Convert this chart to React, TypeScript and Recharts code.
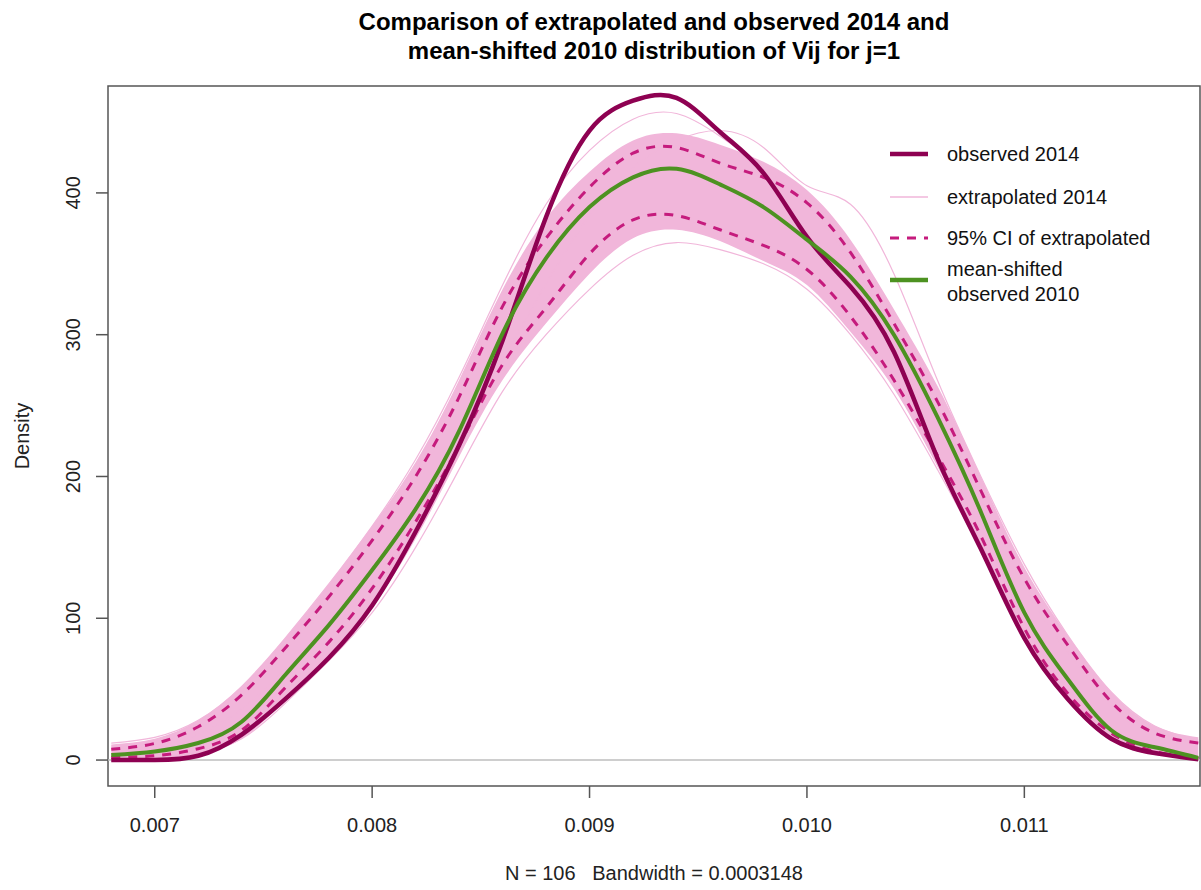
import React from 'react';
import {
  Area,
  ComposedChart,
  Legend,
  Line,
  ReferenceArea,
  ReferenceLine,
  XAxis,
  YAxis,
} from 'recharts';

// density grid (Vij), step 0.0002
const X_VALUES = [
  0.0068, 0.0070, 0.0072, 0.0074, 0.0076, 0.0078, 0.0080, 0.0082, 0.0084,
  0.0086, 0.0088, 0.0090, 0.0092, 0.0094, 0.0096, 0.0098, 0.0100, 0.0102,
  0.0104, 0.0106, 0.0108, 0.0110, 0.0112, 0.0114, 0.0116, 0.0118,
];

const OBSERVED_2014 = [
  0, 0, 3, 18, 43, 72, 109, 161, 222, 296, 383, 444, 465,
  467, 443, 414, 369, 334, 288, 213, 149, 86, 43, 15, 5, 0.5,
];

const MEAN_SHIFTED_2010 = [
  3.5, 6, 12, 27, 60, 95, 134, 177, 232, 301, 354, 390, 411,
  417, 406, 390, 367, 341, 300, 242, 175, 104, 57, 21, 9, 1.5,
];

const CI_HIGH = [
  7.7, 11.7, 23.5, 46, 79, 115, 155, 200, 256, 320, 368, 404, 428,
  432, 421, 411, 393, 358, 308, 253, 190, 128, 81, 41, 19, 12,
];

const CI_LOW = [
  2, 3, 8, 21, 51, 83, 121, 168, 222, 279, 319, 357, 381,
  384, 374, 363, 346, 313, 268, 215, 158, 93, 47, 19, 6, 1,
];

// dense part of the extrapolated curves
const BAND_HIGH = [
  11, 15, 28, 52, 86, 124, 165, 210, 268, 332, 382, 415, 437,
  442, 434, 422, 402, 367, 318, 264, 200, 136, 88, 48, 24, 16,
];

const BAND_LOW = [
  0.5, 1, 4, 15, 42, 72, 108, 156, 214, 268, 308, 343, 368,
  374, 366, 352, 335, 302, 262, 207, 148, 86, 41, 14, 4, 0.5,
];

// a few extrapolated curves that stick out of the bundle
const EXT_A = [
  12, 16, 28, 52, 86, 124, 165, 212, 270, 335, 392, 430, 452,
  456, 440, 418, 392, 352, 300, 245, 184, 122, 76, 40, 20, 12,
];

const EXT_B = [
  8, 10, 18, 36, 64, 98, 138, 180, 228, 282, 336, 384, 418,
  437, 444, 432, 405, 392, 343, 268, 200, 138, 88, 48, 24, 14,
];

const EXT_C = [
  2, 2, 5, 15, 40, 70, 104, 150, 205, 260, 300, 332, 356,
  365, 360, 350, 332, 300, 258, 205, 148, 88, 42, 14, 4, 1,
];

const X_TICKS = [0.007, 0.008, 0.009, 0.01, 0.011];
const Y_TICKS = [0, 100, 200, 300, 400];
const X_DOMAIN: [number, number] = [0.006785, 0.011808];
const Y_DOMAIN: [number, number] = [-18.3, 475.4];

const FONT = '"Liberation Sans", Arial, sans-serif';
const COL_OBS = '#8E0152';
const COL_CI = '#C51B7D';
const COL_EXT = '#F1B6DA';
const COL_2010 = '#4D9221';
const COL_AXIS = '#555555';

const data = X_VALUES.map((x, i) => ({
  x,
  observed: OBSERVED_2014[i],
  shifted: MEAN_SHIFTED_2010[i],
  ciHigh: CI_HIGH[i],
  ciLow: CI_LOW[i],
  band: [BAND_LOW[i], BAND_HIGH[i]],
  extA: EXT_A[i],
  extB: EXT_B[i],
  extC: EXT_C[i],
}));

function XTick(props: any) {
  const { x, y, payload } = props;
  return (
    <text x={x} y={y + 32} textAnchor="middle" fontSize={20} fontFamily={FONT} fill="#222">
      {Number(payload.value).toFixed(3)}
    </text>
  );
}

function YTick(props: any) {
  const { x, y, payload } = props;
  return (
    <text
      transform={`translate(${x - 14},${y}) rotate(-90)`}
      textAnchor="middle"
      fontSize={20}
      fontFamily={FONT}
      fill="#222"
    >
      {payload.value}
    </text>
  );
}

function RLegend() {
  const rows = [
    { y: 25, color: COL_OBS, width: 4.5, dash: undefined, label: ['observed 2014'] },
    { y: 68, color: COL_EXT, width: 1.5, dash: undefined, label: ['extrapolated 2014'] },
    { y: 109, color: COL_CI, width: 3, dash: '9 8', label: ['95% CI of extrapolated'] },
    { y: 151, color: COL_2010, width: 4.5, dash: undefined, label: ['mean-shifted', 'observed 2010'] },
  ];
  return (
    <svg width={320} height={190} style={{ display: 'block', overflow: 'visible' }}>
      {rows.map((r) => (
        <g key={r.label[0]}>
          <line
            x1={10}
            x2={48}
            y1={r.y}
            y2={r.y}
            stroke={r.color}
            strokeWidth={r.width}
            strokeDasharray={r.dash}
          />
          {r.label.length === 1 ? (
            <text x={67} y={r.y + 7} fontSize={20} fontFamily={FONT} fill="#111">
              {r.label[0]}
            </text>
          ) : (
            <text fontSize={20} fontFamily={FONT} fill="#111">
              <tspan x={67} y={r.y - 4}>{r.label[0]}</tspan>
              <tspan x={67} y={r.y + 21}>{r.label[1]}</tspan>
            </text>
          )}
        </g>
      ))}
    </svg>
  );
}

export default function App() {
  return (
    <div style={{ position: 'absolute', left: 0, top: 0, width: 1201, height: 890, background: '#fff' }}>
      <svg
        width={1201}
        height={890}
        style={{ position: 'absolute', left: 0, top: 0, pointerEvents: 'none' }}
      >
        <text x={654} y={30} textAnchor="middle" fontSize={24} fontWeight="bold" fontFamily={FONT} fill="#000">
          Comparison of extrapolated and observed 2014 and
        </text>
        <text x={654} y={59} textAnchor="middle" fontSize={24} fontWeight="bold" fontFamily={FONT} fill="#000">
          mean-shifted 2010 distribution of Vij for j=1
        </text>
        <text
          transform="translate(29,436) rotate(-90)"
          textAnchor="middle"
          fontSize={20}
          fontFamily={FONT}
          fill="#222"
        >
          Density
        </text>
        <text x={654} y={880} textAnchor="middle" fontSize={20} fontFamily={FONT} fill="#222" style={{ whiteSpace: 'pre' }}>
          {'N = 106   Bandwidth = 0.0003148'}
        </text>
      </svg>
      <ComposedChart
        width={1201}
        height={890}
        data={data}
        margin={{ top: 86, right: 1, bottom: 44, left: 48 }}
        style={{ position: 'absolute', left: 0, top: 0 }}
      >
        <XAxis
          dataKey="x"
          type="number"
          domain={X_DOMAIN}
          allowDataOverflow
          ticks={X_TICKS}
          height={60}
          axisLine={false}
          tickSize={12}
          tickLine={{ stroke: COL_AXIS, strokeWidth: 1.5 }}
          tick={<XTick />}
        />
        <YAxis
          type="number"
          domain={Y_DOMAIN}
          allowDataOverflow
          ticks={Y_TICKS}
          width={60}
          axisLine={false}
          tickSize={12}
          tickLine={{ stroke: COL_AXIS, strokeWidth: 1.5 }}
          tick={<YTick />}
        />
        <ReferenceLine y={0} stroke="#BEBEBE" strokeWidth={1.5} />
        <Area
          dataKey="band"
          type="natural"
          stroke="none"
          fill={COL_EXT}
          fillOpacity={1}
          isAnimationActive={false}
          activeDot={false}
        />
        {['extA', 'extB', 'extC'].map((k) => (
          <Line
            key={k}
            dataKey={k}
            type="natural"
            stroke={COL_EXT}
            strokeWidth={1.2}
            dot={false}
            activeDot={false}
            isAnimationActive={false}
          />
        ))}
        <Line dataKey="ciHigh" type="natural" stroke={COL_CI} strokeWidth={3} strokeDasharray="9 8" dot={false} activeDot={false} isAnimationActive={false} />
        <Line dataKey="ciLow" type="natural" stroke={COL_CI} strokeWidth={3} strokeDasharray="9 8" dot={false} activeDot={false} isAnimationActive={false} />
        <Line dataKey="observed" type="natural" stroke={COL_OBS} strokeWidth={4.5} dot={false} activeDot={false} isAnimationActive={false} />
        <Line dataKey="shifted" type="natural" stroke={COL_2010} strokeWidth={4} dot={false} activeDot={false} isAnimationActive={false} />
        <ReferenceArea
          x1={X_DOMAIN[0]}
          x2={X_DOMAIN[1]}
          y1={Y_DOMAIN[0]}
          y2={Y_DOMAIN[1]}
          fill="none"
          stroke={COL_AXIS}
          strokeWidth={1.5}
          ifOverflow="visible"
        />
        <Legend
          layout="vertical"
          align="center"
          verticalAlign="middle"
          content={<RLegend />}
          wrapperStyle={{ position: 'absolute', left: 880, top: 129, width: 320, height: 190 }}
        />
      </ComposedChart>
    </div>
  );
}
